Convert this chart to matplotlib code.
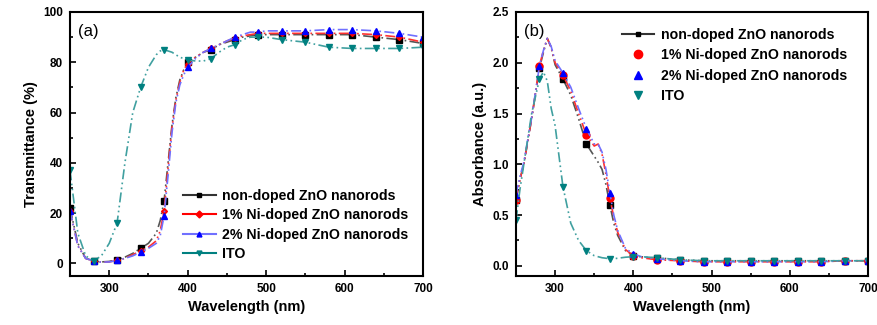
import numpy as np
import matplotlib.pyplot as plt
from matplotlib.lines import Line2D

plt.rcParams['font.family'] = ['Liberation Sans', 'DejaVu Sans']

# ---- panel (a): transmittance ----
wl_a = np.array([250, 260, 270, 280, 290, 300, 310, 320, 330, 340, 350, 360, 365, 370,
                 375, 380, 385, 390, 395, 400, 410, 420, 430, 440, 450, 460, 470, 480,
                 490, 500, 520, 550, 580, 610, 640, 670, 700])
t_undoped = [22, 8, 2, 1, 0.6, 0.8, 1.5, 2.5, 4, 6, 8, 12, 17, 25,
             40, 55, 66, 73, 77, 80, 82, 84, 85, 87, 88, 89, 90, 90.5,
             91, 91, 91, 91, 91, 91, 90, 89, 87.5]
t_ni1 = [21, 7, 2, 1, 0.5, 0.6, 1.2, 2, 3.5, 5, 6.5, 9, 13, 21,
         38, 54, 65, 72, 77, 79.5, 82, 84, 85.5, 87, 88.5, 89.5, 90.5, 91,
         91.5, 91.5, 91.5, 91.5, 91.5, 91.5, 91, 90, 88]
t_ni2 = [21, 7, 2, 1, 0.5, 0.6, 1.2, 2, 3, 4.5, 6, 8, 11, 19,
         35, 52, 64, 71, 75, 78, 81.5, 84, 85.5, 87, 88.5, 90, 91, 92,
         92, 92.5, 92.5, 92.5, 93, 93, 92.5, 91.5, 90]
t_ito = [37, 12, 3, 1, 3, 8, 16, 40, 60, 70, 78, 83, 84.5, 85,
         84.5, 84, 83, 82, 81.5, 81, 80.5, 80.5, 81.5, 84, 86, 87, 89, 90,
         90, 90, 89, 88, 86, 85.5, 85.5, 85.5, 86]

# ---- panel (b): absorbance ----
wl_b = np.array([250, 255, 260, 270, 280, 285, 290, 295, 300, 310, 320, 330, 340, 350,
                 355, 360, 365, 370, 375, 380, 390, 400, 410, 420, 430, 460, 490, 520,
                 550, 580, 610, 640, 670, 700])
a_undoped = [0.65, 0.85, 1.0, 1.45, 1.95, 2.1, 2.24, 2.15, 1.98, 1.84, 1.68, 1.45, 1.2, 1.08,
             1.02, 0.95, 0.8, 0.6, 0.42, 0.3, 0.15, 0.1, 0.09, 0.08, 0.08, 0.06, 0.05, 0.05,
             0.05, 0.05, 0.05, 0.05, 0.05, 0.05]
a_ni1 = [0.65, 0.85, 1.0, 1.45, 1.97, 2.12, 2.24, 2.15, 2.0, 1.88, 1.72, 1.5, 1.29, 1.18,
         1.2, 1.1, 0.9, 0.67, 0.48, 0.33, 0.16, 0.1, 0.08, 0.07, 0.06, 0.05, 0.04, 0.04,
         0.04, 0.04, 0.04, 0.04, 0.05, 0.05]
a_ni2 = [0.7, 0.88, 1.02, 1.46, 1.97, 2.12, 2.24, 2.16, 2.02, 1.9, 1.76, 1.55, 1.35, 1.2,
         1.2, 1.12, 0.95, 0.72, 0.5, 0.35, 0.17, 0.12, 0.09, 0.08, 0.07, 0.05, 0.04, 0.04,
         0.04, 0.04, 0.04, 0.04, 0.05, 0.05]
a_ito = [0.45, 0.75, 1.0, 1.5, 1.84, 1.91, 1.82, 1.55, 1.38, 0.78, 0.42, 0.25, 0.15, 0.1,
         0.09, 0.08, 0.075, 0.07, 0.07, 0.075, 0.085, 0.09, 0.09, 0.085, 0.08, 0.06, 0.05, 0.05,
         0.05, 0.05, 0.05, 0.05, 0.05, 0.05]

labels = ['non-doped ZnO nanorods', '1% Ni-doped ZnO nanorods',
          '2% Ni-doped ZnO nanorods', 'ITO']
line_cols = ['#555555', '#ff3030', '#7070ff', '#40a0a0']
mk_cols = ['#000000', '#ff0000', '#0000ff', '#008080']
ls = (0, (6, 2, 1, 2, 1, 2))

fig = plt.figure(figsize=(8.78, 3.25), dpi=100)
axa = fig.add_axes([70 / 878, 49 / 325, 353 / 878, 264 / 325])
axb = fig.add_axes([516 / 878, 49 / 325, 352 / 878, 264 / 325])

mk_a = (wl_a - 250) % 30 == 0
mk_b = (wl_b - 250) % 30 == 0

markers_a = ['s', 'D', '^', 'v']
for y, lc, mc, m in zip([t_undoped, t_ni1, t_ni2, t_ito], line_cols, mk_cols, markers_a):
    y = np.array(y)
    axa.plot(wl_a, y, color=lc, lw=1.2, ls=ls)
    axa.plot(wl_a[mk_a], y[mk_a], ls='none', marker=m, ms=4 if m != 'D' else 3,
             color=mc)

markers_b = ['s', 'o', '^', 'v']
for y, lc, mc, m in zip([a_undoped, a_ni1, a_ni2, a_ito], line_cols, mk_cols, markers_b):
    y = np.array(y)
    axb.plot(wl_b, y, color=lc, lw=1.2, ls=ls)
    axb.plot(wl_b[mk_b], y[mk_b], ls='none', marker=m, ms=5 if m != 's' else 4,
             color=mc)

hand_a = [Line2D([], [], color=lc, lw=1.5, marker=m, ms=3.5, mfc=mc, mec=mc)
          for lc, mc, m in zip(['#333333', '#ff0000', '#7070ff', '#008080'],
                               mk_cols, ['s', 'D', '^', 'v'])]
hand_b = [Line2D([], [], color='#333333', lw=1.5, marker='s', ms=3.5, mfc='k', mec='k')]
hand_b += [Line2D([], [], ls='none', marker=m, ms=6, color=mc)
           for mc, m in zip(mk_cols[1:], ['o', '^', 'v'])]

leg_kw = dict(frameon=False, handlelength=2.3, handletextpad=0.45, borderpad=0,
              borderaxespad=0, loc='upper left',
              prop={'weight': 'bold', 'size': 10.2})
axa.legend(hand_a, labels, bbox_to_anchor=(0.32, 0.33), labelspacing=0.38, **leg_kw)
axb.legend(hand_b, labels, bbox_to_anchor=(0.30, 0.94), labelspacing=0.45, **leg_kw)

axa.set_xlim(250, 700)
axa.set_ylim(-5, 100)
axa.set_yticks([0, 20, 40, 60, 80, 100])
axa.set_ylabel('Transmittance (%)', fontsize=10.5, fontweight='bold')
axa.text(0.022, 0.925, '(a)', transform=axa.transAxes, fontsize=12, va='center')

axb.set_xlim(250, 700)
axb.set_ylim(-0.1, 2.5)
axb.set_yticks([0.0, 0.5, 1.0, 1.5, 2.0, 2.5])
axb.set_yticklabels(['0.0', '0.5', '1.0', '1.5', '2.0', '2.5'])
axb.set_ylabel('Absorbance (a.u.)', fontsize=10.5, fontweight='bold')
axb.text(0.022, 0.925, '(b)', transform=axb.transAxes, fontsize=12, va='center')

for ax in (axa, axb):
    ax.set_xticks([300, 400, 500, 600, 700])
    ax.set_xticks([350, 450, 550, 650], minor=True)
    ax.set_xlabel('Wavelength (nm)', fontsize=10.5, fontweight='bold')
    ax.tick_params(direction='in', length=4, width=1.2, labelsize=8.5, pad=5)
    ax.tick_params(which='minor', direction='in', length=2.5, width=1.2)
    for lab in ax.get_xticklabels() + ax.get_yticklabels():
        lab.set_fontweight('bold')
    for sp in ax.spines.values():
        sp.set_linewidth(1.5)

axa.set_yticks([10, 30, 50, 70, 90], minor=True)
axb.set_yticks([0.25, 0.75, 1.25, 1.75, 2.25], minor=True)

fig.savefig('out.png', dpi=100)
